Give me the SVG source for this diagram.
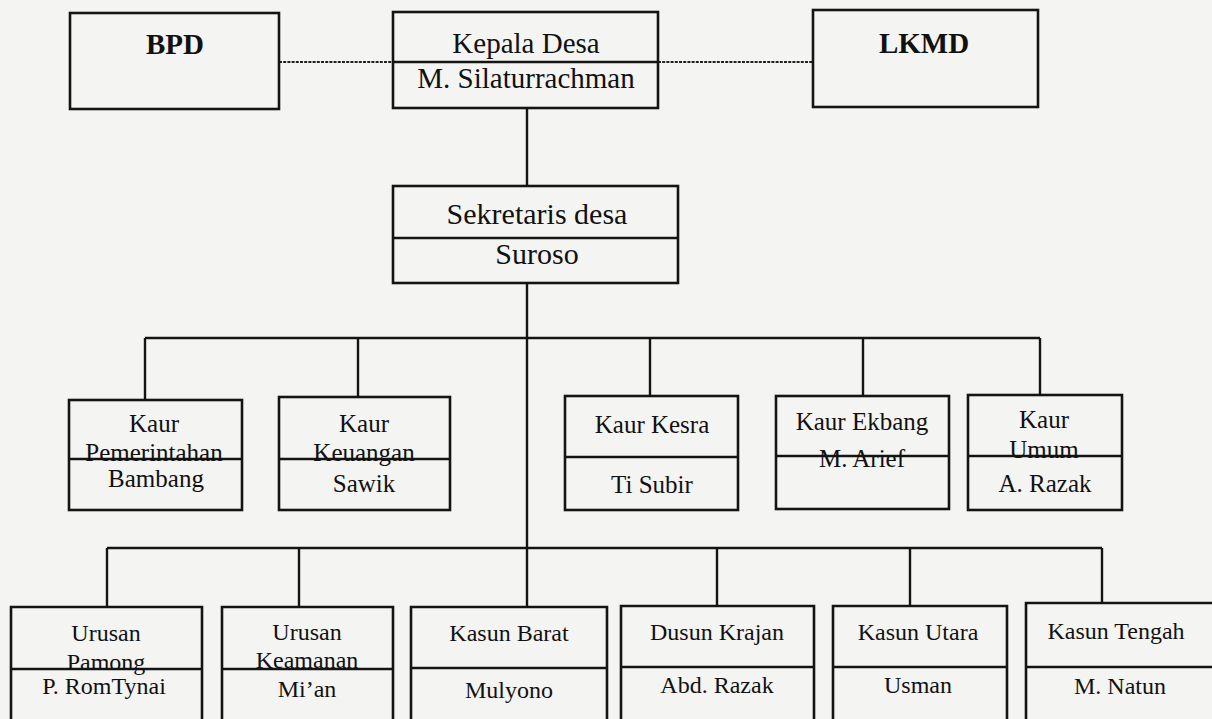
<svg xmlns="http://www.w3.org/2000/svg" width="1212" height="719" viewBox="0 0 1212 719">
<style>
.box{fill:none;stroke:#141414;stroke-width:2.6}
.div{stroke:#141414;stroke-width:2.4}
.ln{stroke:#141414;stroke-width:2.4;fill:none}
.dot{stroke:#222;stroke-width:2.2;stroke-dasharray:3 1.2;fill:none}
text{font-family:"Liberation Serif","Times New Roman",serif;fill:#111;text-anchor:middle}
.t1{font-size:29px}
.t0{font-size:30px}
.b1{font-size:29px;font-weight:bold}
.t2{font-size:25px}
.t3{font-size:24px}
</style>
<rect width="1212" height="719" fill="#f4f4f2"/>
<g id="connectors">
<path class="dot" d="M279,62 H393 M658,62 H813"/>
<path class="ln" d="M527,108 V186 M527,283 V607"/>
<path class="ln" d="M145,338 H1040 M145,338 V400 M358,338 V397 M650,338 V396 M863,338 V396 M1040,338 V395"/>
<path class="ln" d="M107,548 H1102 M107,548 V607 M299,548 V607 M717,548 V606 M910,548 V606 M1102,548 V603"/>
</g>
<g id="bpd"><rect class="box" x="70" y="13" width="209" height="96"/><text class="b1" x="175" y="54">BPD</text></g>
<g id="kepala-desa"><rect class="box" x="393" y="12" width="265" height="96"/><line class="div" x1="393" y1="62" x2="658" y2="62"/><text class="t1" x="526" y="53">Kepala Desa</text><text class="t1" x="526" y="88">M. Silaturrachman</text></g>
<g id="lkmd"><rect class="box" x="813" y="10" width="225" height="97"/><text class="b1" x="924" y="53">LKMD</text></g>
<g id="sekretaris"><rect class="box" x="393" y="186" width="285" height="97"/><line class="div" x1="393" y1="238" x2="678" y2="238"/><text class="t0" x="537" y="224">Sekretaris desa</text><text class="t0" x="537" y="264">Suroso</text></g>
<g id="kaur-pemerintahan"><rect class="box" x="69" y="400" width="173" height="110"/><line class="div" x1="69" y1="459" x2="242" y2="459"/><text class="t2" x="154" y="432">Kaur</text><text class="t2" x="154" y="461">Pemerintahan</text><text class="t2" x="156" y="487">Bambang</text></g>
<g id="kaur-keuangan"><rect class="box" x="279" y="397" width="171" height="113"/><line class="div" x1="279" y1="459" x2="450" y2="459"/><text class="t2" x="364" y="432">Kaur</text><text class="t2" x="364" y="461">Keuangan</text><text class="t2" x="364" y="492">Sawik</text></g>
<g id="kaur-kesra"><rect class="box" x="565" y="396" width="173" height="114"/><line class="div" x1="565" y1="457" x2="738" y2="457"/><text class="t2" x="652" y="433">Kaur Kesra</text><text class="t2" x="652" y="493">Ti Subir</text></g>
<g id="kaur-ekbang"><rect class="box" x="776" y="396" width="173" height="113"/><line class="div" x1="776" y1="456" x2="949" y2="456"/><text class="t2" x="862" y="430">Kaur Ekbang</text><text class="t2" x="862" y="467">M. Arief</text></g>
<g id="kaur-umum"><rect class="box" x="968" y="395" width="154" height="115"/><line class="div" x1="968" y1="456" x2="1122" y2="456"/><text class="t2" x="1044" y="428">Kaur</text><text class="t2" x="1044" y="458">Umum</text><text class="t2" x="1045" y="492">A. Razak</text></g>
<g id="urusan-pamong"><path class="box" d="M11,725 V607 H202 V725"/><line class="div" x1="11" y1="669" x2="202" y2="669"/><text class="t3" x="106" y="641">Urusan</text><text class="t3" x="106" y="670">Pamong</text><text class="t3" x="104" y="694">P. RomTynai</text></g>
<g id="urusan-keamanan"><path class="box" d="M222,725 V607 H393 V725"/><line class="div" x1="222" y1="669" x2="393" y2="669"/><text class="t3" x="307" y="640">Urusan</text><text class="t3" x="307" y="668">Keamanan</text><text class="t3" x="307" y="697">Mi’an</text></g>
<g id="kasun-barat"><path class="box" d="M411,725 V607 H607 V725"/><line class="div" x1="411" y1="668" x2="607" y2="668"/><text class="t3" x="509" y="641">Kasun Barat</text><text class="t3" x="509" y="698">Mulyono</text></g>
<g id="dusun-krajan"><path class="box" d="M621,725 V606 H814 V725"/><line class="div" x1="621" y1="667" x2="814" y2="667"/><text class="t3" x="717" y="640">Dusun Krajan</text><text class="t3" x="717" y="693">Abd. Razak</text></g>
<g id="kasun-utara"><path class="box" d="M833,725 V606 H1007 V725"/><line class="div" x1="833" y1="667" x2="1007" y2="667"/><text class="t3" x="918" y="640">Kasun Utara</text><text class="t3" x="918" y="693">Usman</text></g>
<g id="kasun-tengah"><path class="box" d="M1026,725 V603 H1225"/><line class="div" x1="1026" y1="667" x2="1225" y2="667"/><text class="t3" x="1116" y="639">Kasun Tengah</text><text class="t3" x="1120" y="694">M. Natun</text></g>
</svg>
